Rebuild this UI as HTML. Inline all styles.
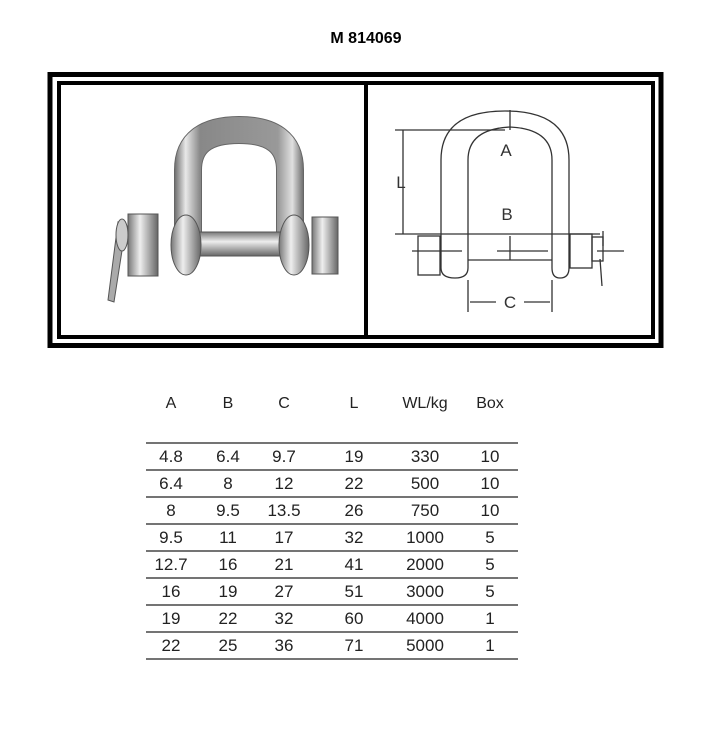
<!DOCTYPE html>
<html><head><style>
body{margin:0;width:718px;height:756px;background:#fff;position:relative;font-family:"Liberation Sans",sans-serif;overflow:hidden}
.t{position:absolute;font-size:16px;color:#222;text-align:center;width:60px;margin-left:-30px}
</style></head><body>
<div style="position:absolute;left:0;width:718px;top:30px;text-align:center;font-weight:bold;font-size:16px;padding-left:14px;box-sizing:border-box">M 814069</div>
<svg width="718" height="756" style="position:absolute;left:0;top:0">
<defs>
<linearGradient id="g" x1="0" x2="1"><stop offset="0" stop-color="#777"/><stop offset=".4" stop-color="#eee"/><stop offset=".7" stop-color="#aaa"/><stop offset="1" stop-color="#666"/></linearGradient>
<linearGradient id="gv" x1="0" y1="0" x2="0" y2="1"><stop offset="0" stop-color="#777"/><stop offset=".4" stop-color="#eee"/><stop offset="1" stop-color="#666"/></linearGradient>
<linearGradient id="ga" gradientUnits="userSpaceOnUse" x1="174" y1="0" x2="304" y2="0"><stop offset="0" stop-color="#666"/><stop offset=".09" stop-color="#e8e8e8"/><stop offset=".2" stop-color="#888"/><stop offset=".8" stop-color="#999"/><stop offset=".91" stop-color="#e0e0e0"/><stop offset="1" stop-color="#666"/></linearGradient>
</defs>
<rect x="50" y="74.5" width="611" height="271" fill="none" stroke="#000" stroke-width="5"/>
<rect x="59" y="83" width="594" height="254" fill="none" stroke="#000" stroke-width="4"/>
<line x1="366" y1="83" x2="366" y2="337" stroke="#000" stroke-width="4"/>
<!-- photo -->
<path d="M188 240 L188 170 Q188 130 239 130 Q290 130 290 170 L290 240" fill="none" stroke="#666" stroke-width="28"/>
<path d="M188 240 L188 170 Q188 130 239 130 Q290 130 290 170 L290 240" fill="none" stroke="url(#ga)" stroke-width="26"/>
<rect x="184" y="232" width="112" height="24" fill="url(#gv)" stroke="#555"/>
<ellipse cx="186" cy="245" rx="15" ry="30" fill="url(#g)" stroke="#555"/>
<ellipse cx="294" cy="245" rx="15" ry="30" fill="url(#g)" stroke="#555"/>
<rect x="128" y="214" width="30" height="62" fill="url(#g)" stroke="#555"/>
<rect x="312" y="217" width="26" height="57" fill="url(#g)" stroke="#555"/>
<path d="M118 222 L108 300 L114 302 L126 225 Z" fill="#aaa" stroke="#555"/>
<ellipse cx="122" cy="235" rx="6" ry="16" fill="#ccc" stroke="#555"/>
<!-- diagram -->
<g fill="none" stroke="#333" stroke-width="1.3">
<path d="M441 268 L441 160 Q441 111 505 111 Q569 111 569 160 L569 268 Q569 278 560 278 Q552 278 552 268 L552 160 Q552 129 510 127 Q468 129 468 160 L468 268 Q468 278 455 278 Q441 278 441 268 Z"/>
<rect x="418" y="236" width="22" height="39"/>
<rect x="570" y="234" width="22" height="34"/>
<rect x="592" y="237" width="11" height="24"/>
<line x1="395" y1="130" x2="505" y2="130"/>
<line x1="395" y1="234" x2="600" y2="234"/>
<line x1="468" y1="260" x2="552" y2="260"/>
<line x1="403" y1="130" x2="403" y2="234"/>
<line x1="510" y1="110" x2="510" y2="130"/>
<line x1="510" y1="236" x2="510" y2="260"/>
<line x1="412" y1="251" x2="462" y2="251"/>
<line x1="497" y1="251" x2="548" y2="251"/>
<line x1="597" y1="251" x2="624" y2="251"/>
<line x1="468" y1="280" x2="468" y2="312"/>
<line x1="552" y1="280" x2="552" y2="312"/>
<line x1="470" y1="302" x2="496" y2="302"/>
<line x1="524" y1="302" x2="550" y2="302"/>
<path d="M603 231 L603 246 M600 259 L602 286"/>
</g>
<g font-family="Liberation Sans" font-size="17" fill="#333" text-anchor="middle">
<text x="506" y="156">A</text><text x="507" y="220">B</text><text x="401" y="188">L</text><text x="510" y="308">C</text>
</g>
<g stroke="#222" stroke-width="1.2">
<line x1="146" y1="443" x2="518" y2="443"/><line x1="146" y1="470" x2="518" y2="470"/>
<line x1="146" y1="497" x2="518" y2="497"/><line x1="146" y1="524" x2="518" y2="524"/>
<line x1="146" y1="551" x2="518" y2="551"/><line x1="146" y1="578" x2="518" y2="578"/>
<line x1="146" y1="605" x2="518" y2="605"/><line x1="146" y1="632" x2="518" y2="632"/>
<line x1="146" y1="659" x2="518" y2="659"/>
</g>
</svg>
<div class="t" style="left:171px;top:395px">A</div><div class="t" style="left:228px;top:395px">B</div><div class="t" style="left:284px;top:395px">C</div><div class="t" style="left:354px;top:395px">L</div><div class="t" style="left:425px;top:395px">WL/kg</div><div class="t" style="left:490px;top:395px">Box</div>
<div id="rows"></div>
<script>
var d=[["4.8","6.4","9.7","19","330","10"],["6.4","8","12","22","500","10"],["8","9.5","13.5","26","750","10"],["9.5","11","17","32","1000","5"],["12.7","16","21","41","2000","5"],["16","19","27","51","3000","5"],["19","22","32","60","4000","1"],["22","25","36","71","5000","1"]];
var x=[171,228,284,354,425,490],h="";
d.forEach(function(r,i){r.forEach(function(v,j){h+='<div class="t" style="font-size:17px;left:'+x[j]+'px;top:'+(447+27*i)+'px">'+v+'</div>';});});
document.getElementById("rows").innerHTML=h;
</script>
</body></html>
